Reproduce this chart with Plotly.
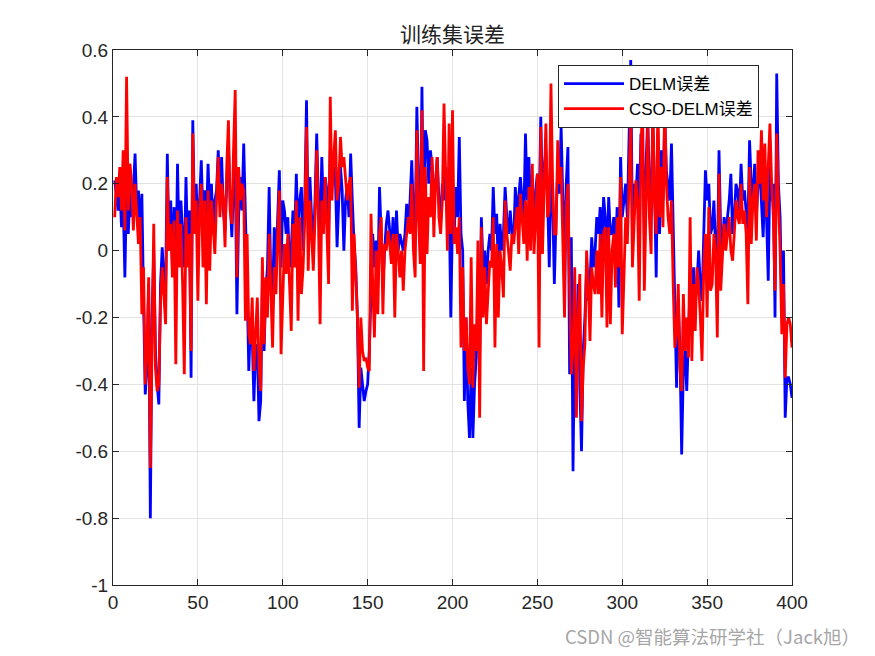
import plotly.graph_objects as go

# sample index 1..400
x_vals = list(range(1, 401))

delm_err = [
    0.21, 0.17, 0.12, 0.20, 0.07, 0.15, -0.08, 0.20, 0.05, 0.18,
    0.10, 0.18, 0.29, 0.12, 0.18, 0.05, 0.17, -0.15, -0.43, -0.35,
    -0.10, -0.80, -0.20, 0.00, -0.30, -0.40, -0.46, -0.10, 0.01, -0.10,
    -0.10, 0.29, 0.00, 0.15, -0.05, 0.13, -0.10, 0.26, 0.00, 0.15,
    0.05, -0.05, 0.22, 0.00, 0.12, -0.38, 0.39, 0.10, 0.20, 0.05,
    0.15, 0.27, 0.10, 0.18, 0.08, 0.26, 0.12, 0.20, 0.05, 0.15,
    0.18, 0.30, 0.15, 0.28, 0.12, 0.06, 0.20, 0.32, 0.15, 0.04,
    0.20, 0.25, -0.19, 0.10, 0.22, 0.12, 0.32, 0.05, -0.10, -0.36,
    -0.20, -0.25, -0.45, -0.30, -0.28, -0.51, -0.45, -0.10, -0.30, -0.12,
    -0.05, 0.19, -0.10, -0.15, 0.07, -0.05, 0.10, 0.24, -0.05, 0.15,
    0.12, 0.05, 0.10, -0.05, 0.00, 0.12, 0.05, 0.23, 0.05, 0.15,
    0.19, 0.00, 0.15, 0.45, 0.05, 0.22, 0.10, 0.00, 0.15, 0.35,
    0.15, 0.05, 0.28, 0.12, 0.22, 0.18, 0.05, 0.30, 0.20, 0.25,
    0.22, 0.01, 0.15, 0.25, 0.18, 0.00, 0.15, 0.20, 0.10, 0.29,
    0.15, 0.02, -0.05, -0.20, -0.53, -0.35, -0.40, -0.45, -0.42, -0.40,
    -0.30, -0.10, 0.05, -0.05, 0.03, -0.10, 0.19, 0.05, -0.10, 0.00,
    0.08, 0.12, 0.05, 0.00, 0.10, -0.05, 0.12, 0.00, 0.05, 0.02,
    0.00, 0.05, 0.14, 0.08, 0.15, 0.27, 0.10, 0.05, 0.43, 0.20,
    0.00, 0.49, 0.05, 0.36, 0.33, 0.20, 0.30, 0.25, 0.15, 0.20,
    0.28, 0.15, 0.09, 0.20, 0.15, 0.25, 0.10, 0.15, -0.20, 0.10,
    0.05, 0.19, 0.10, 0.34, 0.05, 0.00, -0.45, -0.20, -0.45, -0.56,
    -0.35, -0.56, -0.40, -0.32, -0.15, -0.30, 0.10, -0.05, 0.00, -0.10,
    0.00, 0.05, 0.00, 0.19, 0.05, 0.11, -0.05, 0.08, 0.00, 0.05,
    0.19, 0.10, 0.05, 0.12, 0.05, 0.02, 0.19, 0.10, 0.15, 0.22,
    0.15, 0.10, 0.35, 0.15, 0.28, 0.12, 0.20, 0.10, 0.18, 0.23,
    0.10, 0.40, 0.15, 0.25, 0.30, 0.16, -0.05, 0.25, 0.15, -0.10,
    0.10, 0.25, 0.17, 0.37, 0.15, 0.00, 0.20, 0.31, -0.37, 0.04,
    -0.66, -0.20, -0.32, -0.10, -0.40, -0.60, -0.30, -0.20, -0.05, -0.15,
    -0.10, 0.04, -0.05, 0.00, 0.10, 0.05, 0.13, 0.00, 0.16, 0.10,
    -0.05, 0.16, 0.05, 0.05, 0.10, 0.00, 0.13, -0.17, 0.28, 0.10,
    0.15, 0.20, 0.10, 0.30, 0.57, 0.05, 0.20, 0.15, 0.26, 0.10,
    0.35, 0.30, 0.05, 0.25, 0.40, 0.20, 0.10, 0.38, 0.20, -0.08,
    0.35, 0.05, 0.30, 0.15, 0.40, 0.24, 0.20, 0.15, 0.32, 0.05,
    -0.20, -0.41, -0.15, -0.30, -0.61, -0.35, -0.30, -0.42, -0.25, -0.10,
    -0.20, -0.05, -0.15, -0.10, 0.00, -0.10, -0.15, 0.10, 0.24, 0.15,
    0.20, 0.05, 0.07, 0.15, 0.00, -0.05, 0.30, 0.05, 0.00, 0.10,
    0.05, 0.10, 0.15, 0.23, 0.05, 0.10, 0.20, 0.18, 0.12, 0.26,
    0.15, 0.18, 0.10, 0.05, 0.33, 0.20, 0.15, 0.26, 0.10, 0.20,
    0.25, 0.15, 0.04, 0.20, 0.10, -0.09, 0.25, 0.15, 0.20, -0.20,
    0.53, 0.20, 0.10, -0.20, 0.00, -0.50, -0.38, -0.38, -0.40, -0.44,
]

cso_delm_err = [
    0.10, 0.22, 0.16, 0.25, 0.12, 0.30, 0.06, 0.52, 0.12, 0.26,
    0.20, 0.06, 0.20, 0.12, 0.02, 0.10, -0.19, -0.05, -0.40, -0.30,
    -0.08, -0.65, -0.30, 0.08, -0.35, -0.42, -0.40, -0.15, -0.05, -0.12,
    -0.22, 0.22, 0.00, 0.08, -0.08, 0.09, -0.34, 0.12, -0.05, 0.08,
    -0.10, -0.37, 0.10, -0.05, 0.05, -0.30, 0.35, 0.05, 0.15, -0.15,
    0.12, 0.20, -0.05, 0.15, -0.16, 0.18, -0.06, 0.15, 0.05, -0.01,
    0.15, 0.28, 0.10, 0.20, 0.15, 0.01, 0.25, 0.39, 0.12, 0.08,
    0.30, 0.48, -0.08, 0.25, 0.15, 0.20, 0.18, -0.21, 0.05, -0.25,
    -0.28, -0.14, -0.36, -0.25, -0.14, -0.35, -0.42, -0.02, -0.28, -0.08,
    -0.20, 0.05, -0.15, -0.29, -0.05, -0.13, 0.05, 0.18, -0.31, -0.10,
    0.02, -0.07, 0.05, -0.10, -0.24, 0.08, -0.05, 0.15, -0.21, 0.10,
    -0.13, -0.05, 0.10, 0.37, -0.06, 0.15, 0.05, -0.06, 0.10, 0.30,
    0.10, -0.22, 0.15, 0.05, 0.22, 0.08, -0.10, 0.46, 0.15, 0.28,
    0.36, 0.15, 0.20, 0.34, 0.25, 0.28, 0.22, 0.15, 0.20, 0.22,
    -0.18, 0.05, -0.07, -0.20, -0.41, -0.20, -0.30, -0.33, -0.32, -0.35,
    -0.36, 0.11, -0.10, -0.26, 0.00, -0.19, 0.05, 0.10, -0.19, 0.02,
    0.00, 0.06, 0.02, -0.04, 0.05, -0.20, 0.05, 0.00, -0.08, 0.00,
    -0.12, 0.00, 0.05, 0.10, 0.05, 0.20, 0.00, -0.08, 0.36, 0.10,
    -0.04, 0.42, -0.36, 0.25, -0.01, 0.16, 0.10, 0.28, 0.04, 0.20,
    0.28, 0.10, 0.05, 0.15, 0.44, 0.20, 0.00, 0.38, 0.05, 0.42,
    0.02, 0.07, -0.01, 0.10, -0.29, -0.05, -0.30, -0.20, -0.35, -0.40,
    -0.02, -0.41, -0.22, -0.30, 0.03, -0.50, 0.07, -0.20, -0.05, -0.22,
    -0.10, -0.03, -0.05, 0.10, -0.29, 0.02, -0.20, 0.00, -0.05, -0.14,
    0.15, 0.05, 0.00, -0.06, 0.05, 0.02, 0.08, 0.13, -0.01, 0.17,
    0.10, 0.02, 0.15, -0.03, 0.19, 0.00, 0.26, -0.01, 0.10, 0.23,
    -0.29, 0.37, -0.01, 0.20, 0.38, 0.10, 0.12, 0.50, 0.20, 0.05,
    0.05, 0.33, 0.20, 0.25, 0.00, -0.20, 0.13, 0.20, -0.11, -0.37,
    -0.30, -0.05, -0.50, -0.20, -0.07, -0.51, -0.35, -0.28, 0.00, -0.10,
    -0.27, -0.05, -0.10, -0.13, 0.00, -0.13, 0.05, -0.20, 0.05, 0.07,
    -0.23, 0.07, -0.22, 0.00, 0.05, -0.11, 0.10, -0.05, 0.22, -0.25,
    -0.08, 0.10, 0.02, 0.25, 0.40, -0.05, 0.10, 0.21, 0.15, -0.15,
    0.30, 0.45, -0.12, 0.20, 0.38, 0.10, -0.01, 0.45, 0.15, 0.05,
    0.45, 0.10, 0.25, 0.07, 0.45, 0.20, 0.10, 0.05, 0.15, -0.10,
    -0.29, -0.25, -0.10, -0.35, -0.42, -0.13, -0.30, -0.20, -0.32, 0.10,
    -0.33, -0.10, -0.24, -0.05, -0.10, -0.20, -0.33, -0.05, 0.05, -0.20,
    0.13, -0.12, -0.10, 0.05, -0.01, -0.26, 0.23, -0.12, 0.00, 0.08,
    0.00, 0.05, 0.10, 0.00, -0.03, 0.05, 0.15, 0.10, 0.08, 0.20,
    0.08, 0.12, 0.05, -0.16, 0.25, 0.02, 0.15, 0.20, 0.03, 0.30,
    0.20, 0.36, 0.15, 0.32, 0.10, 0.25, 0.38, 0.20, 0.10, -0.12,
    0.35, 0.15, 0.00, -0.25, -0.10, -0.38, -0.22, -0.20, -0.22, -0.29,
]

series_names = ["DELM误差", "CSO-DELM误差"]
series_colors = ["#0000ff", "#ff0000"]
title_text = "训练集误差"
watermark = "CSDN @智能算法研学社（Jack旭）"

x_tick_vals = [0, 50, 100, 150, 200, 250, 300, 350, 400]
y_tick_vals = [-1, -0.8, -0.6, -0.4, -0.2, 0, 0.2, 0.4, 0.6]
y_tick_text = ["-1", "-0.8", "-0.6", "-0.4", "-0.2", "0", "0.2", "0.4", "0.6"]

FONT = "Liberation Sans, Arial, Noto Sans CJK SC, sans-serif"
CJK = "Noto Sans CJK SC, Liberation Sans, sans-serif"

fig = go.Figure()
for name, ys, col in zip(series_names, [delm_err, cso_delm_err], series_colors):
    fig.add_trace(go.Scatter(
        x=x_vals, y=ys, mode="lines", name=name,
        line=dict(color=col, width=2.8),
    ))

axis_common = dict(
    showgrid=True, gridcolor="#e3e3e3", gridwidth=1,
    showline=True, linecolor="#262626", linewidth=1, mirror="ticks",
    ticks="inside", ticklen=6, tickcolor="#262626", tickwidth=1,
    zeroline=False,
    tickfont=dict(family=FONT, size=19, color="#262626"),
)

PL, PR, PT, PB = 113, 792, 50, 585

fig.update_layout(
    width=875, height=656,
    paper_bgcolor="white", plot_bgcolor="white",
    margin=dict(l=PL, r=875 - PR, t=PT, b=656 - PB),
    showlegend=True,
    legend=dict(
        x=(558 - PL) / (PR - PL), y=(PB - 65) / (PB - PT),
        xanchor="left", yanchor="top",
        bgcolor="white", bordercolor="#262626", borderwidth=1,
        font=dict(family=FONT, size=17, color="black"),
        tracegroupgap=0, itemwidth=60,
    ),
    xaxis=dict(range=[0, 400], tickvals=x_tick_vals, **axis_common),
    yaxis=dict(range=[-1, 0.6], tickvals=y_tick_vals, ticktext=y_tick_text, **axis_common),
    annotations=[
        dict(text=title_text, x=0.5, y=(PB - 33) / (PB - PT), xref="paper", yref="paper",
             showarrow=False, xanchor="center", yanchor="middle",
             font=dict(family=CJK, size=21, color="#222222")),
        dict(text=watermark, x=(862 - PL) / (PR - PL), y=(PB - 636) / (PB - PT),
             xref="paper", yref="paper", showarrow=False,
             xanchor="right", yanchor="middle",
             font=dict(family=CJK, size=18.5, color="#a6a6a6")),
    ],
)

fig.write_html(
    "out.html",
    config={"displayModeBar": False},
    post_script="document.body.style.margin='0';document.body.style.overflow='hidden';",
)
